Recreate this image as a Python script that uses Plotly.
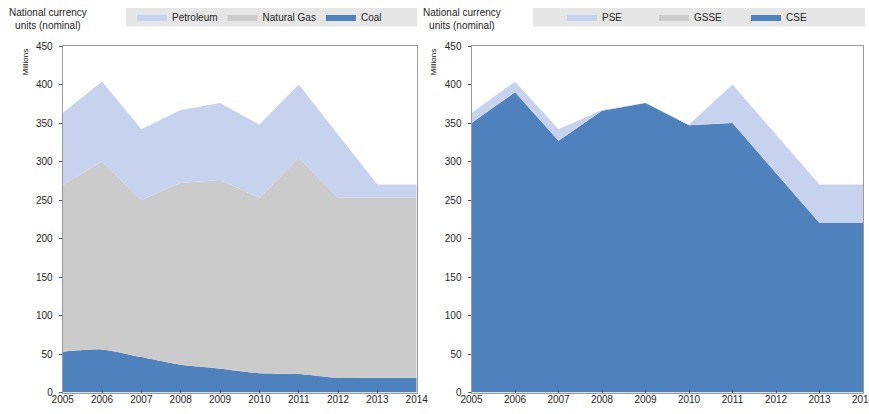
import plotly.graph_objects as go

# Fossil fuel support by fuel type and by indicator, national currency units (millions)
years = [2005, 2006, 2007, 2008, 2009, 2010, 2011, 2012, 2013, 2014]
year_labels = ["2005", "2006", "2007", "2008", "2009", "2010", "2011", "2012", "2013", "2014"]

# Left panel: by fuel
coal = [53, 56, 46, 36, 31, 25, 24, 19, 19, 19]
natural_gas = [216, 244, 204, 236, 245, 228, 281, 234, 234, 234]
petroleum = [94, 104, 92, 95, 100, 95, 95, 82, 17, 17]

# Right panel: by support indicator
cse = [350, 390, 327, 366, 376, 347, 350, 285, 220, 220]
gsse = [0, 0, 0, 0, 0, 0, 0, 0, 0, 0]
pse = [13, 14, 15, 1, 0, 1, 50, 50, 50, 50]

y_ticks = [0, 50, 100, 150, 200, 250, 300, 350, 400, 450]

W, H = 869, 414
BLUE = "#4f81bd"
GREY = "#cbcbcb"
LIGHT = "#c7d3ee"
FONT = "Liberation Sans, Arial, sans-serif"
TXT = "#262626"


def px_x(p):
    return p / W


def px_y(p):
    return 1 - p / H


fig = go.Figure()

left_series = [("Coal", coal, BLUE, "spline"),
               ("Natural Gas", natural_gas, GREY, "linear"),
               ("Petroleum", petroleum, LIGHT, "linear")]
for name, vals, col, shape in left_series:
    fig.add_trace(go.Scatter(
        x=years, y=vals, name=name, stackgroup="fuel", mode="lines",
        line=dict(width=0, shape=shape, smoothing=0.6), fillcolor=col,
        xaxis="x", yaxis="y", legend="legend"))

right_series = [("CSE", cse, BLUE), ("GSSE", gsse, GREY), ("PSE", pse, LIGHT)]
for name, vals, col in right_series:
    fig.add_trace(go.Scatter(
        x=years, y=vals, name=name, stackgroup="ind", mode="lines",
        line=dict(width=0), fillcolor=col,
        xaxis="x2", yaxis="y2", legend="legend2"))

xcommon = dict(range=[2005, 2014], tickvals=years, ticktext=year_labels,
               ticks="inside", ticklen=3, tickcolor="#555", showgrid=False,
               zeroline=False, showline=True, linecolor="#9a9a9a", linewidth=1,
               mirror=True, automargin=False, ticklabeloverflow="allow",
               ticklabelstandoff=-3,
               tickfont=dict(size=10, color=TXT, family=FONT))
ycommon = dict(range=[0, 450], tickvals=y_ticks, ticks="outside", ticklen=3,
               tickcolor="#555", showgrid=False, zeroline=False, showline=True,
               linecolor="#9a9a9a", linewidth=1, mirror=True, automargin=False,
               ticklabelstandoff=4,
               tickfont=dict(size=10, color=TXT, family=FONT))

ydom = [px_y(392.5), px_y(46)]
fig.update_layout(
    width=W, height=H, margin=dict(l=0, r=0, t=0, b=0, autoexpand=False),
    paper_bgcolor="white", plot_bgcolor="white",
    font=dict(family=FONT, size=10, color=TXT),
    xaxis=dict(domain=[px_x(62.7), px_x(416.7)], anchor="y", **xcommon),
    yaxis=dict(domain=ydom, anchor="x", **ycommon),
    xaxis2=dict(domain=[px_x(471.5), px_x(863)], anchor="y2", **xcommon),
    yaxis2=dict(domain=ydom, anchor="x2", **ycommon),
    legend=dict(orientation="h", x=px_x(132), xanchor="left", y=px_y(17),
                yanchor="middle", bgcolor="rgba(0,0,0,0)", traceorder="reversed",
                font=dict(size=10, color=TXT, family=FONT), itemwidth=30),
    legend2=dict(orientation="h", x=px_x(562), xanchor="left", y=px_y(17),
                 yanchor="middle", bgcolor="rgba(0,0,0,0)", traceorder="reversed",
                 entrywidth=47, font=dict(size=10, color=TXT, family=FONT),
                 itemwidth=30),
    shapes=[
        dict(type="rect", xref="paper", yref="paper", x0=px_x(126), x1=px_x(417),
             y0=px_y(26.5), y1=px_y(8), fillcolor="#e6e6e6", line=dict(width=0),
             layer="below"),
        dict(type="rect", xref="paper", yref="paper", x0=px_x(533), x1=px_x(865),
             y0=px_y(26.5), y1=px_y(8), fillcolor="#e6e6e6", line=dict(width=0),
             layer="below"),
    ],
    annotations=[
        dict(text="National currency<br>units (nominal)", xref="paper", yref="paper",
             x=px_x(48), y=px_y(19), xanchor="center", yanchor="middle",
             showarrow=False, align="center",
             font=dict(size=10, color=TXT, family=FONT)),
        dict(text="National currency<br>units (nominal)", xref="paper", yref="paper",
             x=px_x(462), y=px_y(19), xanchor="center", yanchor="middle",
             showarrow=False, align="center",
             font=dict(size=10, color=TXT, family=FONT)),
        dict(text="Millions", xref="paper", yref="paper", x=px_x(25), y=px_y(62.5),
             xanchor="center", yanchor="middle", textangle=-90, showarrow=False,
             font=dict(size=8, color="#111", family=FONT)),
        dict(text="Millions", xref="paper", yref="paper", x=px_x(433), y=px_y(62.5),
             xanchor="center", yanchor="middle", textangle=-90, showarrow=False,
             font=dict(size=8, color="#111", family=FONT)),
    ],
)

fig.write_html("out.html")
